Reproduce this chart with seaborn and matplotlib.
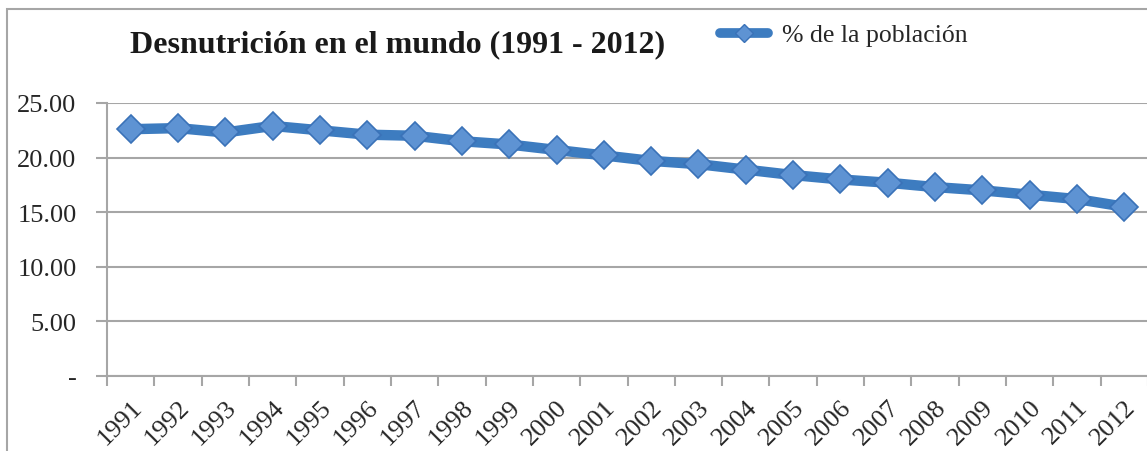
import matplotlib
matplotlib.use("Agg")
import matplotlib.pyplot as plt
from matplotlib.lines import Line2D
from matplotlib.patches import Rectangle
import pandas as pd
import seaborn as sns

# --- DATOS ---
anios = [str(a) for a in range(1991, 2013)]
porcentaje = [22.6, 22.7, 22.3, 22.9, 22.5, 22.1, 22.0, 21.5, 21.2, 20.7, 20.2,
              19.7, 19.4, 18.9, 18.4, 18.0, 17.7, 17.3, 17.0, 16.6, 16.2, 15.5]
etiquetas_y = ["-", "5.00", "10.00", "15.00", "20.00", "25.00"]
titulo = "Desnutrición en el mundo (1991 - 2012)"
serie = "% de la población"

df = pd.DataFrame({"anio": anios, "pct": porcentaje})

# --- ESTILO ---
sns.set_style("white")
plt.rcParams["font.family"] = ["Liberation Serif", "DejaVu Serif"]

azul = "#3D7CC0"
gris = "#A6A6A6"

fig = plt.figure(figsize=(11.47, 4.52), dpi=100)
ax = fig.add_axes([107 / 1147, 1 - 377 / 452, 1041 / 1147, 273 / 452])

sns.lineplot(data=df, x="anio", y="pct", ax=ax, color=azul, linewidth=7.5,
             marker="D", markersize=14, markerfacecolor="#5E93D3",
             markeredgecolor="#3A72B8", markeredgewidth=1.2,
             solid_joinstyle="round", solid_capstyle="round", zorder=3)

# ejes
ax.set_ylim(0, 25)
ax.set_yticks([0, 5, 10, 15, 20, 25])
ax.set_yticklabels(etiquetas_y)
ax.set_xlim(-0.5, len(anios) - 0.5)
ax.set_xticks([i - 0.5 for i in range(len(anios) + 1)])
ax.set_xticklabels([])
ax.set_xticks(range(len(anios)), minor=True)
ax.set_xticklabels(anios, minor=True, rotation=45, ha="right", va="top",
                   rotation_mode="anchor")
ax.tick_params(axis="x", which="minor", length=0, pad=14, labelsize=19)
ax.tick_params(axis="x", which="major", length=7, width=1.5, color=gris,
               direction="out", bottom=True)
ax.tick_params(axis="y", length=8, width=1.5, color=gris, direction="out",
               left=True, labelsize=19, pad=14)
ax.set_xlabel("")
ax.set_ylabel("")

ax.yaxis.grid(True, color=gris, linewidth=1.5)
ax.set_axisbelow(True)
for lado in ["top", "right"]:
    ax.spines[lado].set_visible(False)
for lado in ["left", "bottom"]:
    ax.spines[lado].set_color(gris)
    ax.spines[lado].set_linewidth(1.5)

# titulo y leyenda
fig.text(398 / 1147, 1 - 45 / 452, titulo, ha="center", va="center",
         fontsize=23, fontweight="bold", color="#1a1a1a")
handle = Line2D([], [], color=azul, linewidth=7, solid_capstyle="round",
                marker="D", markersize=9, markerfacecolor="#5E93D3",
                markeredgecolor="#3A72B8")
fig.legend([handle], [serie], loc="center left",
           bbox_to_anchor=(697 / 1147, 1 - 36 / 452), frameon=False,
           fontsize=18.5, handlelength=1.85, handletextpad=0.55)

# borde exterior
fig.patches.append(Rectangle((7 / 1147, -0.1), 1.2, 1 - 10 / 452 + 0.1,
                             transform=fig.transFigure, fill=False,
                             edgecolor=gris, linewidth=1.5))

fig.savefig("out.png", dpi=100)
